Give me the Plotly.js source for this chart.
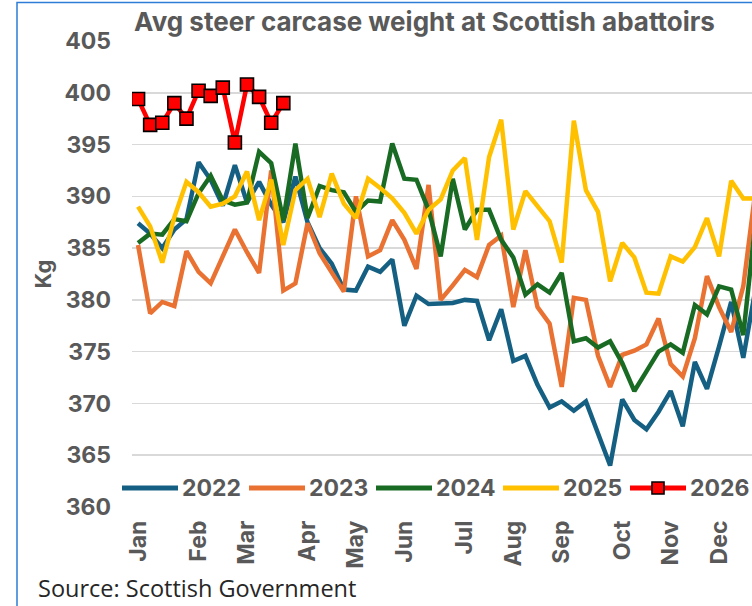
<!DOCTYPE html>
<html>
<head>
<meta charset="utf-8">
<script src="https://cdn.plot.ly/plotly-3.0.1.min.js"></script>
<style>html,body{margin:0;padding:0;background:#fff;}#chart{width:752px;height:606px;}</style>
</head>
<body>
<div id="chart"></div>
<script>
// Week-of-year categories are the index positions of the weekly values below
const months = ['Jan','Feb','Mar','Apr','May','Jun','Jul','Aug','Sep','Oct','Nov','Dec'];
const monthWeeks = [0,5,9,14,18,22,27,31,35,40,44,48];
const seriesNames = ['2022','2023','2024','2025','2026'];

const y2022 = [387.4,386.4,385.0,386.8,387.8,393.3,391.6,389.1,393.0,389.4,
               391.4,389.2,387.5,391.9,387.5,385.0,383.5,381.0,380.9,383.2,
               382.7,383.9,377.5,380.4,379.6,379.6,379.7,380.0,379.9,376.1,
               379.1,374.1,374.6,371.8,369.6,370.2,369.3,370.2,367.2,364.0,
               370.4,368.4,367.5,369.2,371.2,367.8,374.0,371.4,375.5,379.8,
               374.4,381.0];
const y2023 = [385.3,378.7,379.8,379.4,384.7,382.7,381.6,384.2,386.8,384.6,
               382.6,392.5,380.9,381.6,387.4,384.5,382.6,380.8,390.0,384.2,
               384.8,387.7,385.8,383.0,391.1,380.0,381.4,382.9,382.2,385.3,
               386.2,379.3,384.8,379.3,377.7,371.6,380.2,380.0,374.6,371.6,
               374.7,375.1,375.7,378.2,373.8,372.6,376.3,382.3,379.3,376.9,
               381.3,390.5];
const y2024 = [385.5,386.4,386.3,387.8,387.6,390.3,392.0,389.6,389.2,389.4,
               394.3,393.2,387.7,395.1,387.9,391.0,390.6,390.4,388.5,389.6,
               389.5,395.1,391.7,391.6,388.7,384.2,391.7,386.8,388.7,388.7,
               385.8,384.1,380.5,381.5,380.7,382.6,376.0,376.3,375.4,376.0,
               373.9,371.2,373.1,375.0,375.7,374.9,379.5,378.6,381.3,381.0,
               376.6,387.5];
const y2025 = [389.0,387.1,383.6,388.0,391.4,390.4,389.0,389.3,390.0,392.4,
               387.7,391.6,385.3,390.6,391.7,388.0,392.2,389.3,387.9,391.7,
               390.8,389.8,388.4,386.4,388.7,389.7,392.5,393.7,385.8,393.8,
               397.4,386.8,390.5,389.0,387.6,383.6,397.3,390.6,388.5,381.8,
               385.5,384.1,380.7,380.6,384.2,383.7,385.1,387.9,384.2,391.5,
               389.8,389.8];
const y2026 = [399.4,396.9,397.1,399.0,397.5,400.2,399.7,400.5,395.2,400.8,
               399.6,397.1,399.0];

const colors = ['#156082','#E97132','#196B24','#FFC000','#FF0000'];
const allY = [y2022,y2023,y2024,y2025,y2026];
const idx = arr => arr.map((_, i) => i);

const markerStyle = {symbol: 'square', size: 13, color: '#FF0000', line: {color: '#000000', width: 1.6}};

const traces = allY.map((ys, k) => {
  const t = {
    type: 'scatter',
    x: idx(ys),
    y: ys,
    name: seriesNames[k],
    mode: k === 4 ? 'lines+markers' : 'lines',
    line: {color: colors[k], width: 4.5},
    hoverinfo: 'skip',
    showlegend: false
  };
  if (k === 4) t.marker = markerStyle;
  return t;
});

const gray = '#595959';
const boldFont = (size) => ({family: 'Inter, Open Sans, sans-serif', size: size, color: gray, weight: 700});

// pixel helpers for paper coordinates (plot area 132..752 x 41..507)
const L = 132, R = 752, T = 41, B = 507;
const px = x => (x - L) / (R - L);
const py = y => (B - y) / (B - T);

// legend drawn as shapes + text (line samples are longer than Plotly's built-in ones)
const legStartX = 122, legStep = 127, legLineLen = 56, legY = 488;
const shapes = [{
  type: 'rect', xref: 'paper', yref: 'paper',
  x0: px(17), x1: px(820), y0: py(2.5), y1: py(700),
  line: {color: '#2E7CD6', width: 1.5}, fillcolor: 'rgba(0,0,0,0)'
}];
const annotations = [{
  text: 'Source: Scottish Government',
  xref: 'paper', x: px(36), xanchor: 'left',
  yref: 'paper', y: py(588), yanchor: 'middle',
  showarrow: false,
  font: {family: 'Open Sans, sans-serif', size: 23.5, color: '#262626'}
}];
seriesNames.forEach((nm, k) => {
  const x0 = legStartX + k * legStep;
  shapes.push({
    type: 'line', xref: 'paper', yref: 'paper',
    x0: px(x0), x1: px(x0 + legLineLen), y0: py(legY), y1: py(legY),
    line: {color: colors[k], width: 5}
  });
  if (k === 4) {
    const cx = x0 + legLineLen / 2;
    shapes.push({
      type: 'rect', xref: 'paper', yref: 'paper',
      x0: px(cx - 6), x1: px(cx + 6), y0: py(legY - 6), y1: py(legY + 6),
      line: {color: '#000000', width: 1.6}, fillcolor: '#FF0000'
    });
  }
  annotations.push({
    text: nm, xref: 'paper', yref: 'paper',
    x: px(x0 + legLineLen + 2), xanchor: 'left',
    y: py(legY), yanchor: 'middle',
    showarrow: false, font: boldFont(23)
  });
});

const layout = {
  width: 752, height: 606,
  margin: {l: L, r: 0, t: T, b: 606 - B, autoexpand: false},
  paper_bgcolor: '#ffffff', plot_bgcolor: '#ffffff',
  showlegend: false,
  title: {
    text: 'Avg steer carcase weight at Scottish abattoirs',
    font: boldFont(26),
    xref: 'container', x: 134 / 752, xanchor: 'left',
    yref: 'container', y: 1 - 22 / 606, yanchor: 'middle'
  },
  xaxis: {
    range: [-0.5, 50.72],
    tickmode: 'array', tickvals: monthWeeks, ticktext: months,
    tickangle: -90, tickfont: boldFont(23),
    showgrid: false, zeroline: false, showline: false, ticks: '',
    ticklabelstandoff: 8, fixedrange: true
  },
  yaxis: {
    range: [360, 405], tick0: 360, dtick: 5,
    tickfont: boldFont(23),
    gridcolor: '#d9d9d9', gridwidth: 1.5,
    zeroline: false, showline: false, ticks: '',
    ticklabelstandoff: 20,
    title: {text: 'Kg', font: boldFont(22), standoff: 6},
    fixedrange: true
  },
  annotations: annotations,
  shapes: shapes
};

Plotly.newPlot('chart', traces, layout, {displayModeBar: false, staticPlot: true});
</script>
</body>
</html>
